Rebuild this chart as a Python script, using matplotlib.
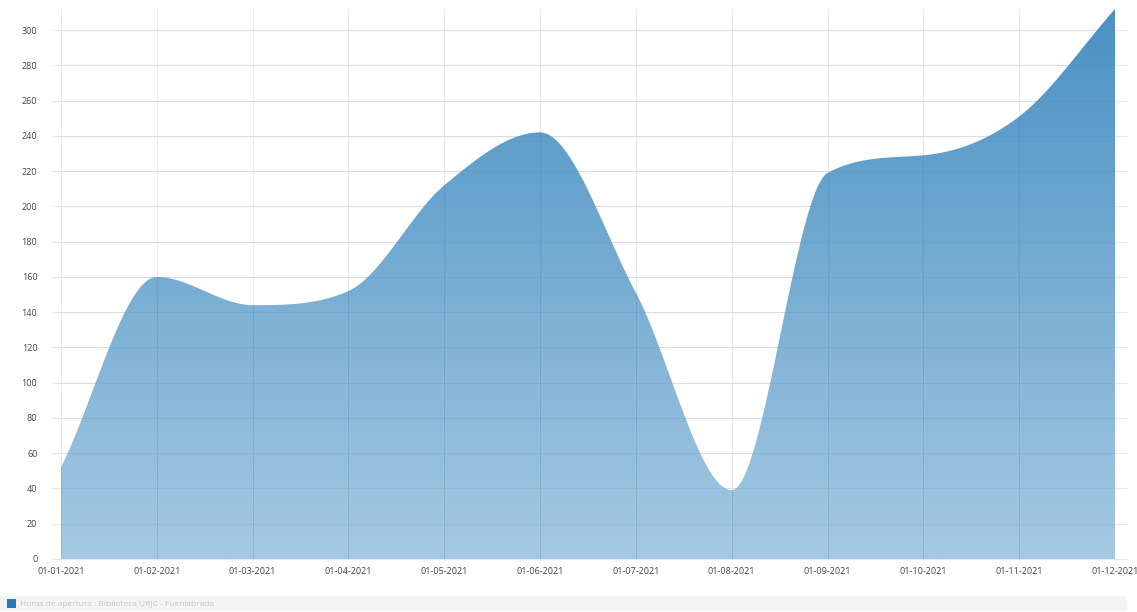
import numpy as np
import matplotlib
matplotlib.use("Agg")
import matplotlib.pyplot as plt
from matplotlib.patches import Polygon
from matplotlib.colors import LinearSegmentedColormap
import matplotlib.transforms as mtransforms

plt.rcParams['font.family'] = ['Open Sans', 'DejaVu Sans']

labels = ['01-01-2021', '01-02-2021', '01-03-2021', '01-04-2021', '01-05-2021', '01-06-2021',
          '01-07-2021', '01-08-2021', '01-09-2021', '01-10-2021', '01-11-2021', '01-12-2021']
hours = [52, 160, 144, 152, 212, 242, 151, 39, 219, 229, 251, 312]
series_name = 'Horas de apertura : Biblioteca URJC - Fuenlabrada'
yticks = list(range(0, 301, 20))


def monotone(x, y, n=40):
    x = np.asarray(x, float); y = np.asarray(y, float)
    d = np.diff(y) / np.diff(x)
    m = np.zeros_like(y)
    m[0] = d[0]; m[-1] = d[-1]
    for i in range(1, len(y) - 1):
        if d[i - 1] * d[i] <= 0:
            m[i] = 0
        else:
            m[i] = (d[i - 1] + d[i]) / 2
    for i in range(len(d)):
        if d[i] == 0:
            m[i] = m[i + 1] = 0
            continue
        a = m[i] / d[i]; b = m[i + 1] / d[i]
        s = a * a + b * b
        if s > 9:
            t = 3 / np.sqrt(s)
            m[i] = t * a * d[i]; m[i + 1] = t * b * d[i]
    xs, ys = [], []
    for i in range(len(d)):
        h = x[i + 1] - x[i]
        t = np.linspace(0, 1, n, endpoint=(i == len(d) - 1))
        h00 = 2 * t**3 - 3 * t**2 + 1
        h10 = t**3 - 2 * t**2 + t
        h01 = -2 * t**3 + 3 * t**2
        h11 = t**3 - t**2
        xs.append(x[i] + t * h)
        ys.append(h00 * y[i] + h10 * h * m[i] + h01 * y[i + 1] + h11 * h * m[i + 1])
    return np.concatenate(xs), np.concatenate(ys)


fig = plt.figure(figsize=(11.37, 6.12), dpi=100)
ax = fig.add_axes([61 / 1137, 1 - 559 / 612, (1115 - 61) / 1137, (559 - 9) / 612])

x = np.arange(len(hours))
xs, ys = monotone(x, hours)
ymax = 312
ax.set_xlim(0, len(hours) - 1)
ax.set_ylim(0, ymax)

cmap = LinearSegmentedColormap.from_list('g', ['#a5c9e2', '#4a91c4'])
grad = np.linspace(0, 1, 256).reshape(-1, 1)
im = ax.imshow(grad, cmap=cmap, origin='lower', aspect='auto',
               extent=[0, len(hours) - 1, 0, ymax], zorder=2)
verts = np.column_stack([np.concatenate([[xs[0]], xs, [xs[-1]]]),
                         np.concatenate([[0], ys, [0]])])
poly = Polygon(verts, closed=True, facecolor='none', edgecolor='none')
ax.add_patch(poly)
im.set_clip_path(poly)

# grid
trans = mtransforms.blended_transform_factory(ax.transAxes, ax.transData)
for v in yticks:
    ax.plot([-9 / 1054, 1 + 12 / 1054], [v, v], transform=trans, color='#e8e8e8',
            lw=0.8, clip_on=False, zorder=1)
for xi in x:
    ax.axvline(xi, color='#e8e8e8', lw=0.8, zorder=1)
    ax.axvline(xi, color='#3c78a8', lw=0.6, alpha=0.25, zorder=3, ymax=np.interp(xi, xs, ys) / ymax)
for v in yticks:
    ax.plot([0, 1], [v, v], transform=trans, color='#3c78a8', lw=0.6, alpha=0.12, zorder=3)

for s in ax.spines.values():
    s.set_visible(False)
ax.set_yticks(yticks)
ax.set_yticklabels([str(v) for v in yticks])
ax.set_xticks(x)
ax.set_xticklabels(labels)
ax.tick_params(axis='both', length=0, labelsize=6.5, colors='#444444')
ax.tick_params(axis='y', pad=17)
ax.tick_params(axis='x', pad=6)

# legend bar
fig.patches.append(plt.Rectangle((0, 1 - 611 / 612), 1127 / 1137, 15 / 612,
                                 transform=fig.transFigure, facecolor='#f4f4f4',
                                 edgecolor='none'))
fig.patches.append(plt.Rectangle((7 / 1137, 1 - 608 / 612), 9 / 1137, 9 / 612,
                                 transform=fig.transFigure, facecolor='#2a7ab9',
                                 edgecolor='none'))
fig.text(20 / 1137, 1 - 604 / 612, series_name, fontsize=6, color='#c4c4c4', va='center')

fig.savefig('out.png', dpi=100)
